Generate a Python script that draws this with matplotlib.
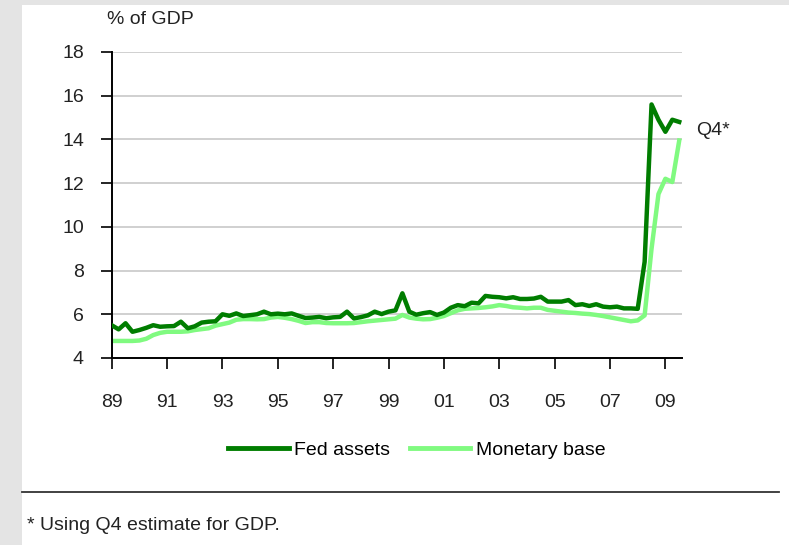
import numpy as np
import matplotlib
matplotlib.use("Agg")
import matplotlib.pyplot as plt
from matplotlib.patches import Rectangle
from matplotlib.lines import Line2D

plt.rcParams['font.family'] = ['Liberation Sans', 'DejaVu Sans']

# quarterly observations, 1989Q1 .. 2009Q3
quarters = np.arange(1989.0, 2009.51, 0.25)

fed_assets = [
    5.50, 5.31, 5.59, 5.20, 5.28, 5.38, 5.50, 5.43,   # 89-90
    5.45, 5.46, 5.66, 5.36, 5.45, 5.62, 5.66, 5.68,   # 91-92
    6.00, 5.93, 6.04, 5.92, 5.96, 6.00, 6.12, 6.00,   # 93-94
    6.03, 6.00, 6.04, 5.93, 5.83, 5.85, 5.88, 5.82,   # 95-96
    5.86, 5.88, 6.12, 5.81, 5.87, 5.95, 6.12, 6.01,   # 97-98
    6.12, 6.18, 6.96, 6.12, 5.98, 6.05, 6.10, 5.97,   # 99-00
    6.08, 6.30, 6.42, 6.37, 6.53, 6.50, 6.84, 6.80,   # 01-02
    6.78, 6.73, 6.78, 6.70, 6.70, 6.72, 6.80, 6.58,   # 03-04
    6.58, 6.58, 6.65, 6.42, 6.46, 6.38, 6.46, 6.35,   # 05-06
    6.32, 6.35, 6.27, 6.27, 6.25, 8.40, 15.60, 14.90, # 07-08
    14.35, 14.90, 14.80,                               # 09
]

monetary_base = [
    4.78, 4.78, 4.78, 4.78, 4.80, 4.88, 5.05, 5.15,
    5.20, 5.20, 5.20, 5.22, 5.28, 5.32, 5.36, 5.48,
    5.55, 5.62, 5.75, 5.78, 5.78, 5.77, 5.78, 5.85,
    5.88, 5.84, 5.78, 5.70, 5.60, 5.64, 5.64, 5.60,
    5.59, 5.59, 5.59, 5.60, 5.64, 5.68, 5.71, 5.74,
    5.77, 5.80, 5.97, 5.85, 5.80, 5.77, 5.78, 5.84,
    5.92, 6.05, 6.18, 6.25, 6.27, 6.29, 6.32, 6.36,
    6.42, 6.38, 6.32, 6.30, 6.27, 6.30, 6.30, 6.20,
    6.16, 6.12, 6.08, 6.06, 6.03, 6.01, 5.97, 5.92,
    5.86, 5.80, 5.74, 5.68, 5.72, 5.95, 9.00, 11.50,
    12.20, 12.05, 13.95,
]

xtick_years = list(range(1989, 2010, 2))
xtick_labels = ['89', '91', '93', '95', '97', '99', '01', '03', '05', '07', '09']
ytick_values = [4, 6, 8, 10, 12, 14, 16, 18]

dark_green = '#007d00'
light_green = '#80fa80'
text_col = '#222222'
fs = 14

fig = plt.figure(figsize=(7.89, 5.45), dpi=100)
fig.patch.set_facecolor('white')

# grey frame strips on the left and top
fig.patches.append(Rectangle((0, 0), 22 / 789, 1, transform=fig.transFigure,
                             facecolor='#e4e4e4', edgecolor='none', zorder=0))
fig.patches.append(Rectangle((0, 1 - 5 / 545), 1, 5 / 545, transform=fig.transFigure,
                             facecolor='#e4e4e4', edgecolor='none', zorder=0))

ax = fig.add_axes([111.7 / 789, 1 - 358 / 545, (682 - 111.7) / 789, (358 - 52) / 545])

ax.plot(quarters, fed_assets, color=dark_green, linewidth=3.2,
        solid_joinstyle='round', zorder=3)
ax.plot(quarters, monetary_base, color=light_green, linewidth=3.2,
        solid_joinstyle='round', zorder=2)

ax.set_xlim(1989, 2009.6)
ax.set_ylim(4, 18)
ax.set_xticks(xtick_years)
ax.set_xticklabels(xtick_labels)
ax.set_yticks(ytick_values)
ax.tick_params(axis='both', direction='out', length=8, width=1.2,
               labelsize=fs, colors='black', labelcolor=text_col)
ax.tick_params(axis='x', pad=18)
ax.tick_params(axis='y', pad=12)

for yv in ytick_values[1:]:
    ax.axhline(yv, color='#c8c8c8', linewidth=1.2, zorder=1)

for side in ['top', 'right']:
    ax.spines[side].set_visible(False)
for side in ['left', 'bottom']:
    ax.spines[side].set_linewidth(1.4)

ax.text(quarters[-1] + 0.6, fed_assets[-1] - 0.4, 'Q4*', fontsize=fs,
        color=text_col, va='center', ha='left', clip_on=False)

fig.text(107 / 789, 1 - 20 / 545, '% of GDP', fontsize=fs, color=text_col,
         ha='left', va='center')

# legend
handles = [Line2D([], [], color=dark_green, linewidth=3.5),
           Line2D([], [], color=light_green, linewidth=3.5)]
fig.legend(handles, ['Fed assets', 'Monetary base'], loc='center',
           bbox_to_anchor=(417 / 789, 1 - 450 / 545), ncol=2, frameon=False,
           fontsize=fs, handlelength=3.1, handletextpad=0.3, columnspacing=1.0)

# separator rule and footnote
fig.add_artist(Line2D([22 / 789, 779 / 789], [1 - 492 / 545, 1 - 492 / 545],
                      transform=fig.transFigure, color='#333333', linewidth=1.3))
fig.text(27 / 789, 1 - 526 / 545, '* Using Q4 estimate for GDP.', fontsize=fs,
         color=text_col, ha='left', va='center')

fig.savefig('out.png', dpi=100)
